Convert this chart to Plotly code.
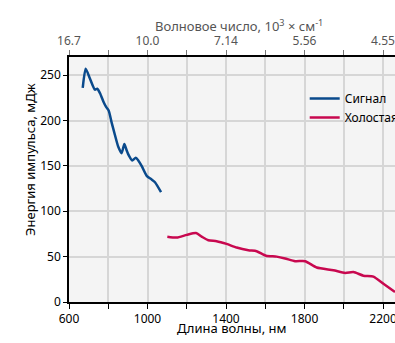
import plotly.graph_objects as go

# Signal (nm, mJ)
sig_wl = [670, 685, 707, 732, 744, 758, 775, 789, 802, 817, 834, 851, 868, 882, 894, 906, 922, 940, 953, 970, 996, 1021, 1038, 1069]
sig_e = [236, 257, 246, 234, 235, 230, 221, 215, 211, 198, 184, 171, 164, 174, 167, 161, 156, 159, 156, 150, 139, 135, 132, 121]

# Idler (nm, mJ)
idl_wl = [1101, 1149, 1200, 1247, 1276, 1310, 1352, 1403, 1454, 1514, 1556, 1604, 1658, 1701, 1752, 1803, 1862, 1947, 2007, 2049, 2100, 2151, 2202, 2261]
idl_e = [72, 71, 74, 76, 72, 68, 67, 64, 60, 57, 56, 51, 50, 48, 45, 45, 38, 35, 32, 33, 29, 28, 20, 11]

x_ticks = [600, 1000, 1400, 1800, 2200]
top_ticktext = ["16.7", "10.0", "7.14", "5.56", "4.55"]
y_ticks = [0, 50, 100, 150, 200, 250]

FONT = "Noto Sans"
GRID = "#d6d6d6"

fig = go.Figure()
fig.add_trace(go.Scatter(x=sig_wl, y=sig_e, mode="lines", name="Сигнал",
                         line=dict(color="#0a4a8c", width=2.5, shape="spline", smoothing=0.6)))
fig.add_trace(go.Scatter(x=idl_wl, y=idl_e, mode="lines", name="Холостая",
                         line=dict(color="#c8084f", width=2.5, shape="spline", smoothing=0.6)))
# dummy trace for top axis
fig.add_trace(go.Scatter(x=[600], y=[0], xaxis="x2", mode="markers",
                         marker=dict(opacity=0), showlegend=False, hoverinfo="skip"))

xr = [600, 2261]
fig.update_layout(
    width=395, height=343,
    margin=dict(l=69, r=0, t=57, b=41, autoexpand=False),
    paper_bgcolor="white", plot_bgcolor="#f4f4f4",
    font=dict(family=FONT, size=12, color="black"),
    showlegend=True,
    legend=dict(x=0.723, y=0.89, xanchor="left", yanchor="top",
                bgcolor="rgba(0,0,0,0)", font=dict(size=12),
                itemwidth=30, tracegroupgap=0),
    xaxis=dict(range=xr, tickvals=x_ticks, ticks="outside", ticklen=5,
               tickcolor="black", showline=True, linecolor="black", linewidth=1.5,
               showgrid=True, gridcolor=GRID, gridwidth=1.5, zeroline=False,
               automargin=False, ticklabeloverflow="allow",
               minor=dict(dtick=200, tick0=600, ticks="outside", ticklen=5,
                          tickcolor="black", showgrid=True, gridcolor=GRID, gridwidth=1.5),
               tickfont=dict(size=12)),
    xaxis2=dict(range=xr, overlaying="x", side="top", tickvals=x_ticks,
                ticktext=top_ticktext, ticks="outside", ticklen=5, tickcolor="#777",
                showline=True, linecolor="black", linewidth=1.5, showgrid=False,
                zeroline=False, automargin=False, ticklabeloverflow="allow",
                minor=dict(dtick=200, tick0=600, ticks="outside", ticklen=5, tickcolor="#777"),
                tickfont=dict(size=12, color="#555")),
    yaxis=dict(range=[0, 270], tickvals=y_ticks, ticks="outside", ticklen=4,
               tickcolor="black", showline=True, linecolor="black", linewidth=1.5,
               showgrid=True, gridcolor=GRID, gridwidth=1.5, zeroline=False,
               automargin=False, tickfont=dict(size=12)),
)
fig.add_annotation(text="Энергия импульса, мДж", textangle=-90,
                   xref="paper", yref="paper", x=0, y=0.58, xshift=-50,
                   showarrow=False, font=dict(size=13))
fig.add_annotation(text="Длина волны, нм", xref="paper", yref="paper",
                   x=0.5, y=0, yshift=-26, yanchor="middle",
                   showarrow=False, font=dict(size=13))
fig.add_annotation(text="Волновое число, 10<sup>3</sup> × см<sup>-1</sup>",
                   xref="paper", yref="paper", x=0.52, y=1, yshift=32, yanchor="middle",
                   showarrow=False, font=dict(size=13, color="#555"))
fig.write_html("out.html", config={"displayModeBar": False},
               post_script="document.body.style.margin='0';document.body.style.padding='0';document.body.style.overflow='hidden';")
